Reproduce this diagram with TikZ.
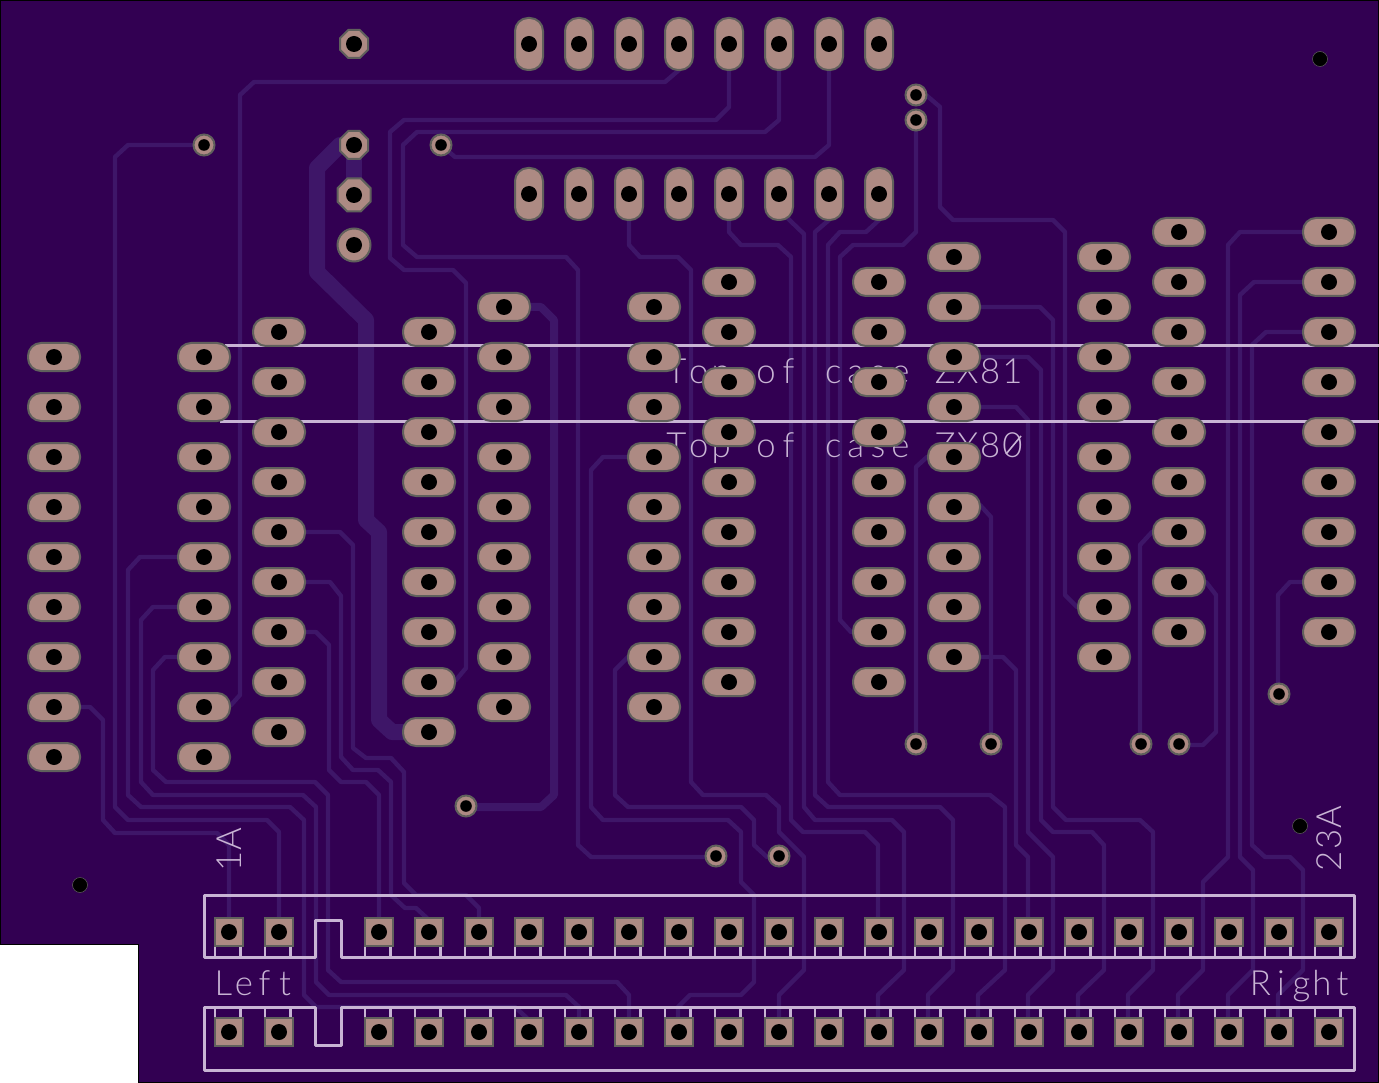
\documentclass[tikz,border=0pt]{standalone}
\usepackage{fontspec}
\newfontfamily\vecfont{Lato Light}
\definecolor{board}{RGB}{50,0,82}
\definecolor{trk}{RGB}{62,22,104}
\definecolor{silk}{RGB}{200,180,212}
\definecolor{copper}{RGB}{173,138,131}
\definecolor{padline}{RGB}{96,96,92}
\makeatletter
\newcommand\monotext[2][22.4pt]{\@tfor\mch:=#2\do{\makebox[#1][c]{\mch}}}
\makeatother
\tikzset{
  trace/.style={draw=trk,line width=4.4pt,line join=round,line cap=butt},
  tracewide/.style={draw=trk,line width=8pt,line join=round},
  tracepower/.style={draw=trk,line width=16pt,line join=round},
  silkline/.style={draw=silk,line width=3pt,line join=round},
  silktext/.style={text=silk,inner sep=0pt,font=\vecfont\fontsize{34.7}{36}\selectfont},
  padst/.style={fill=copper,draw=padline,line width=2pt},
}
\newcommand\octa[3]{\draw[padst] ({#1+#3},{#2-0.414*#3}) -- ({#1+0.414*#3},{#2-#3}) -- ({#1-0.414*#3},{#2-#3}) -- ({#1-#3},{#2-0.414*#3}) -- ({#1-#3},{#2+0.414*#3}) -- ({#1-0.414*#3},{#2+#3}) -- ({#1+0.414*#3},{#2+#3}) -- ({#1+#3},{#2+0.414*#3}) -- cycle; \fill[black] (#1,#2) circle (8pt);}
\begin{document}
\begin{tikzpicture}[x=1pt,y=-1pt]
\useasboundingbox (0,0) rectangle (1379,1083);
\fill[white] (0,0) rectangle (1379,1083);
\draw[fill=board,draw=black,line width=1.5pt] (0.5,0.5) -- (1378.5,0.5) -- (1378.5,1082.5) -- (138.5,1082.5) -- (138.5,944.5) -- (0.5,944.5) -- cycle;
% power traces
\draw[tracepower] plot coordinates {(354,145)(340,145)(317,168)(317,272)(366,320)(366,520)(379,532)(379,720)(392,732)(429,732)};
\draw[tracepower] plot coordinates {(354,145)(354,195)};
\draw[tracewide] plot coordinates {(504,307)(541,307)(554,320)(554,795)(541,807)(466,807)};
% left traces
\draw[trace] plot coordinates {(54,707)(90,707)(103,720)(103,820)(115,833)(217,833)(229,845)(229,932)};
\draw[trace] plot coordinates {(204,145)(128,145)(115,157)(115,807)(128,820)(267,820)(279,832)(279,932)};
\draw[trace] plot coordinates {(204,557)(140,557)(128,570)(128,795)(141,807)(290,807)(304,820)(304,995)(316,1007)(515,1007)(529,1020)(529,1032)};
\draw[trace] plot coordinates {(204,607)(153,607)(141,620)(141,782)(153,795)(303,795)(316,807)(316,982)(329,995)(566,995)(579,1007)(579,1032)};
\draw[trace] plot coordinates {(204,657)(165,657)(153,670)(153,770)(166,782)(315,782)(328,795)(328,970)(341,982)(617,982)(629,995)(629,1032)};
\draw[trace] plot coordinates {(279,532)(340,532)(353,545)(353,748)(366,758)(391,758)(404,772)(404,883)(416,895)(466,895)(479,908)(479,932)};
\draw[trace] plot coordinates {(279,582)(330,582)(341,596)(341,757)(353,770)(378,770)(391,782)(391,895)(405,908)(416,908)(429,920)(429,932)};
\draw[trace] plot coordinates {(279,632)(316,632)(329,645)(329,770)(341,782)(366,782)(379,795)(379,932)};
% top header traces
\draw[trace] plot coordinates {(679,44)(679,70)(665,82)(254,82)(240,95)(240,695)(231,705)(204,707)};
\draw[trace] plot coordinates {(729,44)(729,107)(716,120)(404,120)(390,132)(390,258)(404,270)(453,270)(466,283)(466,668)(456,680)(429,682)};
\draw[trace] plot coordinates {(779,44)(779,120)(765,132)(417,132)(403,145)(403,245)(417,257)(566,257)(578,270)(578,845)(591,857)(716,857)};
\draw[trace] plot coordinates {(829,44)(829,145)(815,157)(455,157)(441,145)};
% centre traces
\draw[trace] plot coordinates {(654,457)(603,457)(591,470)(591,807)(603,820)(728,820)(741,832)(741,882)(754,895)(754,982)(741,995)(690,995)(678,1007)(678,1032)};
\draw[trace] plot coordinates {(654,657)(628,657)(615,670)(615,795)(628,807)(741,807)(754,820)(754,845)(767,857)(779,857)};
\draw[trace] plot coordinates {(629,194)(629,245)(640,257)(678,257)(691,270)(691,782)(703,795)(766,795)(779,807)(779,832)(804,857)(804,970)(779,995)(779,1032)};
\draw[trace] plot coordinates {(729,194)(729,232)(741,245)(778,245)(791,257)(791,820)(803,832)(865,832)(878,845)(878,932)};
\draw[trace] plot coordinates {(779,194)(779,210)(804,234)(804,807)(815,820)(892,820)(904,832)(904,970)(878,995)(878,1032)};
\draw[trace] plot coordinates {(829,194)(829,220)(815,232)(815,795)(828,807)(940,807)(953,820)(953,970)(928,995)(928,1032)};
\draw[trace] plot coordinates {(879,194)(879,220)(866,232)(840,232)(828,245)(828,782)(840,795)(990,795)(1005,807)(1005,970)(978,995)(978,1032)};
\draw[trace] plot coordinates {(916,120)(916,232)(903,245)(853,245)(840,257)(840,620)(851,632)(879,632)};
\draw[trace] plot coordinates {(916,95)(926,95)(940,107)(940,207)(953,220)(1053,220)(1065,232)(1065,595)(1077,607)(1104,607)};
% right-centre traces
\draw[trace] plot coordinates {(954,657)(1003,657)(1016,670)(1016,845)(1028,857)(1028,932)};
\draw[trace] plot coordinates {(954,407)(1016,407)(1028,420)(1028,832)(1053,857)(1053,970)(1028,995)(1028,1032)};
\draw[trace] plot coordinates {(954,357)(1028,357)(1041,370)(1041,820)(1053,832)(1092,832)(1104,845)(1104,970)(1078,995)(1078,1032)};
\draw[trace] plot coordinates {(954,307)(1040,307)(1053,320)(1053,807)(1066,820)(1140,820)(1153,832)(1153,970)(1128,995)(1128,1032)};
\draw[trace] plot coordinates {(954,507)(980,505)(991,517)(991,744)};
\draw[trace] plot coordinates {(954,457)(927,457)(916,467)(916,744)};
\draw[trace] plot coordinates {(1179,532)(1152,532)(1140,545)(1140,744)};
\draw[trace] plot coordinates {(1179,582)(1206,582)(1216,595)(1216,732)(1203,745)(1179,745)};
\draw[trace] plot coordinates {(1329,232)(1240,232)(1228,245)(1228,857)(1203,882)(1203,970)(1178,995)(1178,1032)};
\draw[trace] plot coordinates {(1329,282)(1254,282)(1240,295)(1240,857)(1253,870)(1253,970)(1228,995)(1228,1032)};
\draw[trace] plot coordinates {(1329,332)(1266,332)(1252,345)(1252,845)(1265,857)(1290,857)(1303,870)(1303,970)(1278,995)(1278,1032)};
\draw[trace] plot coordinates {(1329,582)(1290,582)(1278,595)(1278,694)};
% silk
\draw[silkline] (225,345.5) -- (1379,345.5);
\draw[silkline] (220,421) -- (1379,421);
\draw[silkline] (204,895) -- (1354,895) -- (1354,957) -- (341,957) -- (341,920.5) -- (315,920.5) -- (315,957) -- (204,957) -- cycle;
\draw[silkline] (204,1007) -- (315,1007) -- (315,1045) -- (341,1045) -- (341,1007) -- (1354,1007) -- (1354,1070) -- (204,1070) -- cycle;
\foreach \x in {229,279,379,429,...,1329}{
  \draw[silk,line width=2.5pt] ({\x-14},945) -- ({\x-14},957) ({\x+11.5},945) -- ({\x+11.5},957);
  \draw[silk,line width=2.5pt] ({\x-14},1007) -- ({\x-14},1019) ({\x+11.5},1007) -- ({\x+11.5},1019);
}
\node[silktext,anchor=base west] (zxa) at (665,383) {\monotext{Top{\ }of{\ }case{\ }ZX81}};
\node[silktext,anchor=base west] (zxb) at (665,457) {\monotext{Top{\ }of{\ }case{\ }ZX80}};
\draw[silk,line width=1.6pt] (1006,454) -- (1021,436);
\node[silktext,anchor=base west] (lft) at (213,995) {\monotext[20.5pt]{Left}};
\node[silktext,anchor=base west] (rgt) at (1250,995) {\monotext[20.5pt]{Right}};
\node[silktext,anchor=base west,rotate=90] (one) at (241,873) {\monotext{1A}};
\node[silktext,anchor=base west,rotate=90] (two) at (1341,873) {\monotext{23A}};
% DIP pads
\foreach \x/\y in {54/357,204/357,279/332,429/332,504/307,654/307,729/282,879/282,954/257,1104/257,1179/232,1329/232}{
  \foreach \k in {0,...,8}{
    \draw[padst,rounded corners=13pt] ({\x-26},{\y+50*\k-14}) rectangle ({\x+26},{\y+50*\k+14});
    \fill[black] (\x,{\y+50*\k}) circle (8pt);
  }
}
% vertical header pads
\foreach \x in {529,579,...,879}{
  \foreach \y in {44,194}{
    \draw[padst,rounded corners=13pt] ({\x-14},{\y-26}) rectangle ({\x+14},{\y+26});
    \fill[black] (\x,\y) circle (8pt);
  }
}
% edge connector pads
\foreach \x in {229,279,379,429,...,1329}{
  \foreach \y in {932,1032}{
    \draw[padst] ({\x-14},{\y-14}) rectangle ({\x+14},{\y+14});
    \fill[black] (\x,\y) circle (8pt);
  }
}
% vias
\foreach \x/\y in {204/145,441/145,916/95,916/120,916/744,991/744,1141/744,1179/744,1279/694,466/806,716/856,779/856}{
  \draw[padst] (\x,\y) circle (10.5pt);
  \fill[black] (\x,\y) circle (5.8pt);
}
\octa{354}{44}{14}
\octa{354}{145}{14}
\octa{354}{195}{16.5}
\draw[padst] (354,245) circle (16.5pt);
\fill[black] (354,245) circle (8pt);
% mounting holes
\foreach \x/\y in {1320/59,80/885,1300/826}{
  \draw[fill=black,draw=padline,line width=0.5pt] (\x,\y) circle (7.5pt);
}
\end{tikzpicture}
\end{document}
